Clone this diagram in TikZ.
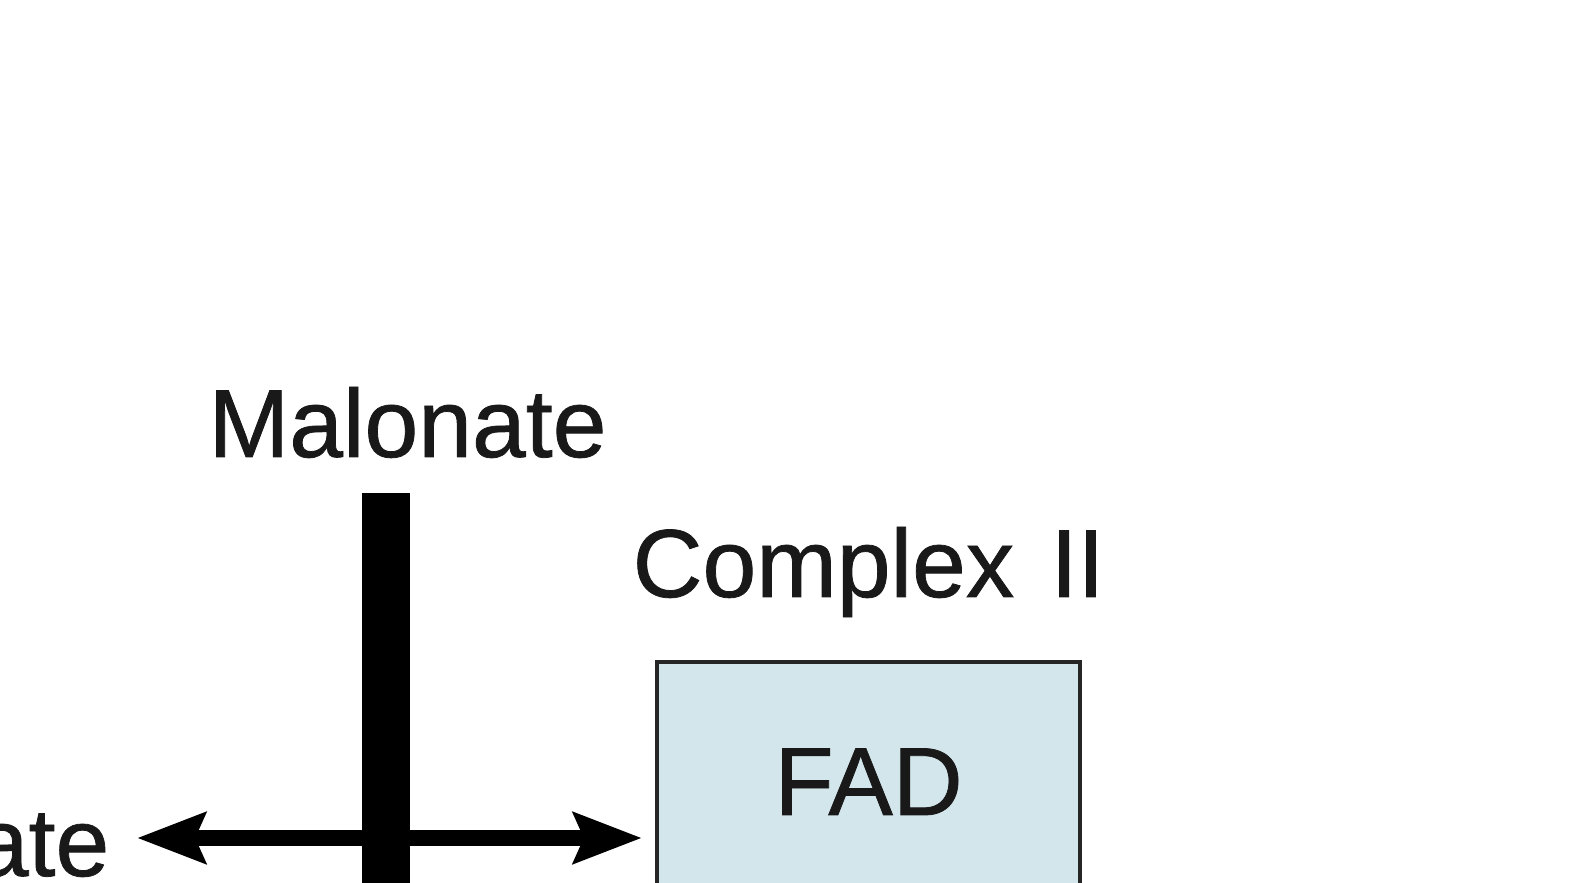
\documentclass[tikz,border=0pt]{standalone}
\usepackage{fontspec}
\setmainfont{Liberation Sans}
\newfontfamily\lblfont{Liberation Sans}[FakeBold=0.8]
\usetikzlibrary{arrows.meta}
\definecolor{fadblue}{RGB}{211,230,236}

\begin{document}
\begin{tikzpicture}[x=0.01cm, y=-0.01cm]

\tikzstyle{lbl}=[inner sep=0, text=black!90, font=\lblfont\fontsize{27.5}{33}\selectfont]
\tikzstyle{fadbox}=[draw=black!85, line width=0.04cm, fill=fadblue, inner sep=0,
outer sep=0, minimum width=4.23cm, minimum height=3cm]
\tikzstyle{blockbar}=[fill=black, inner sep=0, outer sep=0, minimum width=0.47cm,
minimum height=4cm]
\tikzstyle{conv}=[line width=0.16cm, <->, >={Stealth[length=0.68cm, width=0.5cm, inset=0.1cm]}]

\useasboundingbox (0,0) rectangle (1572,883);
\clip (0,0) rectangle (1572,883);

\node[lbl, anchor=base west] (malonate) at (208,457) {Malonate};
\node[lbl, anchor=base west] (complexlbl) at (632,597) {Complex\hspace{0.1em} II};
\node[fadbox, anchor=north west] (complexbox) at (657,662) {};
\node[lbl, anchor=base] (fad) at (complexbox.north |- 0,815) {FAD};
\node[lbl, anchor=base east] (subst) at (110,876) {ate};

% reversible step, blocked by malonate
\coordinate (cross) at (386,838);
\path (subst.east |- cross) ++(27,0) coordinate (tipL);
\path (complexbox.west |- cross) ++(-15,0) coordinate (tipR);
\draw[conv] (tipL) -- (tipR);
\node[blockbar, anchor=north] (block) at (cross |- 0,493) {};

\end{tikzpicture}
\end{document}
